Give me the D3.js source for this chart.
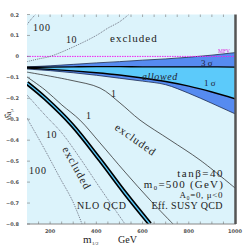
<!DOCTYPE html>
<html>
<head>
<meta charset="utf-8">
<script src="https://cdn.jsdelivr.net/npm/d3@7"></script>
<style>
  body { margin: 0; background: #fff; }
  svg { display: block; }
</style>
</head>
<body>
<svg id="chart" width="251" height="251"></svg>
<script>
// m_1/2 grid for the allowed band
const bandM = [100, 200, 300, 400, 500, 600, 700, 800, 900, 1000]
const band3Top = [-0.050, -0.045, -0.038, -0.031, -0.025, -0.018, -0.012, -0.004, 0.006, 0.018]
const band1Top = [-0.052, -0.051, -0.050, -0.049, -0.049, -0.050, -0.050, -0.050, -0.050, -0.051]
const band1Bot = [-0.056, -0.062, -0.069, -0.078, -0.089, -0.103, -0.120, -0.142, -0.170, -0.202]
const band3Bot = [-0.060, -0.068, -0.078, -0.090, -0.104, -0.118, -0.135, -0.176, -0.224, -0.274]

// contour lines [m, value]
const c100Up = [[100, 0.152], [120, 0.18], [137, 0.2]]
const c10Up = [[100, -0.025], [150, -0.012], [200, 0.0], [300, 0.045], [400, 0.10], [450, 0.135], [500, 0.165], [540, 0.2]]
const c1Up = [[100, -0.075], [286, -0.113], [416, -0.151], [502, -0.222], [589, -0.304], [719, -0.399], [849, -0.495], [1000, -0.628]]
const c1Low = [[100, -0.098], [178, -0.160], [251, -0.232], [329, -0.304], [416, -0.413], [524, -0.552], [632, -0.685], [732, -0.8]]
const thick = [[100, -0.127], [178, -0.199], [295, -0.327], [416, -0.494], [524, -0.652], [632, -0.8]]
const c10Low = [[100, -0.184], [178, -0.280], [251, -0.366], [329, -0.485], [416, -0.628], [524, -0.8]]
const c100Low = [[100, -0.295], [178, -0.447], [243, -0.581], [295, -0.685], [338, -0.8]]

const xTicks = [200, 400, 600, 800, 1000]
const yTicks = [0.2, 0.1, 0, -0.1, -0.2, -0.3, -0.4, -0.5, -0.6, -0.7, -0.8]

const svg = d3.select('#chart')
const pL = 27, pR = 235, pT = 14.5, pB = 224

const x = d3.scaleLinear().domain([100, 1000]).range([pL, pR])
const y = d3.scaleLinear().domain([-0.8, 0.2]).range([pB, pT])

svg.append('rect')
  .attr('x', pL).attr('y', pT)
  .attr('width', pR - pL).attr('height', pB - pT)
  .attr('fill', '#dcf3fb')

svg.append('defs').append('clipPath').attr('id', 'clip')
  .append('rect').attr('x', pL).attr('y', pT)
  .attr('width', pR - pL).attr('height', pB - pT)

const g = svg.append('g').attr('clip-path', 'url(#clip)')

const area = (hi, lo) => d3.area()
  .curve(d3.curveMonotoneX)
  .x((d, i) => x(bandM[i]))
  .y0((d, i) => y(lo[i]))
  .y1((d, i) => y(hi[i]))

g.append('path').datum(bandM).attr('d', area(band3Top, band3Bot)).attr('fill', '#568bf0')
g.append('path').datum(bandM).attr('d', area(band1Top, band1Bot)).attr('fill', '#5ccafa')

const bandLine = (vals) => d3.line().curve(d3.curveMonotoneX).x((d, i) => x(bandM[i])).y((d, i) => y(vals[i]))
;[band3Top, band3Bot].forEach((v) => {
  g.append('path').datum(bandM).attr('d', bandLine(v))
    .attr('fill', 'none').attr('stroke', '#1c2a50').attr('stroke-width', 0.8)
})
;[band1Top, band1Bot].forEach((v) => {
  g.append('path').datum(bandM).attr('d', bandLine(v))
    .attr('fill', 'none').attr('stroke', '#000').attr('stroke-width', 1.4)
})

const line = d3.line().curve(d3.curveCatmullRom.alpha(0.5)).x((d) => x(d[0])).y((d) => y(d[1]))

// MFV line
g.append('line')
  .attr('x1', x(100)).attr('x2', x(1000)).attr('y1', y(0)).attr('y2', y(0))
  .attr('stroke', '#f020f0').attr('stroke-width', 1).attr('stroke-dasharray', '1.5,1')

;[c100Up, c10Up, c10Low, c100Low].forEach((c) => {
  g.append('path').datum(c).attr('d', line)
    .attr('fill', 'none').attr('stroke', '#556').attr('stroke-width', 0.8).attr('stroke-dasharray', '1,1')
})
;[c1Up, c1Low].forEach((c) => {
  g.append('path').datum(c).attr('d', line)
    .attr('fill', 'none').attr('stroke', '#333').attr('stroke-width', 0.8)
})

g.append('path').datum(thick).attr('d', line)
  .attr('fill', 'none').attr('stroke', '#000').attr('stroke-width', 4.5)
g.append('path').datum(thick).attr('d', line)
  .attr('fill', 'none').attr('stroke', '#5ccafa').attr('stroke-width', 1.3)

// frame
svg.append('line').attr('x1', pL).attr('x2', pR + 1).attr('y1', pB).attr('y2', pB)
  .attr('stroke', '#888').attr('stroke-width', 1)
svg.append('line').attr('x1', pR + 0.5).attr('x2', pR + 0.5).attr('y1', pT).attr('y2', pB)
  .attr('stroke', '#555').attr('stroke-width', 2.5)

// ticks
const minorX = d3.range(150, 1000, 50)
svg.selectAll('.tt').data(minorX).join('line')
  .attr('x1', (d) => x(d)).attr('x2', (d) => x(d))
  .attr('y1', pT).attr('y2', pT + 2.5)
  .attr('stroke', '#777').attr('stroke-width', 0.6)
svg.selectAll('.bt').data(minorX).join('line')
  .attr('x1', (d) => x(d)).attr('x2', (d) => x(d))
  .attr('y1', pB).attr('y2', pB - 2.5)
  .attr('stroke', '#777').attr('stroke-width', 0.6)
svg.selectAll('.lt').data(yTicks).join('line')
  .attr('x1', pL).attr('x2', pL + 3)
  .attr('y1', (d) => y(d)).attr('y2', (d) => y(d))
  .attr('stroke', '#777').attr('stroke-width', 0.6)

const fmt = (d) => (d === 0 ? '0' : d3.format('.1f')(d))
svg.selectAll('.yl').data(yTicks).join('text')
  .attr('x', 19).attr('y', (d) => y(d) + 2)
  .attr('text-anchor', 'end')
  .attr('font-family', 'DejaVu Sans, sans-serif').attr('font-size', 5).attr('font-weight', 'bold')
  .attr('fill', '#555')
  .text(fmt)
svg.selectAll('.xl').data(xTicks).join('text')
  .attr('x', (d) => x(d)).attr('y', 233)
  .attr('text-anchor', 'middle')
  .attr('font-family', 'DejaVu Sans, sans-serif').attr('font-size', 5).attr('font-weight', 'bold')
  .attr('fill', '#555')
  .text((d) => d)

const serif = 'Liberation Serif, Times New Roman, serif'
const label = (tx, px, py, size, opts = {}) => {
  const t = svg.append('text').attr('x', px).attr('y', py)
    .attr('font-family', serif).attr('font-size', size)
    .attr('fill', opts.fill || '#222')
  if (opts.anchor) t.attr('text-anchor', opts.anchor)
  if (opts.rotate) t.attr('transform', `rotate(${opts.rotate},${px},${py})`)
  if (opts.italic) t.attr('font-style', 'italic')
  if (opts.ls) t.attr('letter-spacing', opts.ls)
  t.text(tx)
  return t
}

label('100', 33, 31, 10, { ls: 1 })
label('10', 66, 43, 10, { ls: 0.5 })
label('excluded', 110, 42, 11, { ls: 1 })
label('MFV', 218, 53, 5.5, { fill: '#e020e0' })
label('3 σ', 201, 66, 9, { fill: '#223' })
label('allowed', 142, 80, 10, { italic: true, fill: '#223', ls: 0.6 })
label('1 σ', 204, 86, 9, { fill: '#223' })
label('1', 111, 97, 10)
label('1', 86, 119, 10)
label('excluded', 114, 129, 11, { rotate: 35, ls: 1 })
label('10', 46, 138, 10, { ls: 0.5 })
label('100', 29, 174, 10, { ls: 1 })
label('excluded', 62, 149, 11, { rotate: 61, ls: 1 })
label('tanβ=40', 224, 177, 11, { anchor: 'end', ls: 1.5 })
label('m₀=500 (GeV)', 224, 188, 11, { anchor: 'end', ls: 1.2 })
label('A₀=0,  μ<0', 223, 198, 9, { anchor: 'end', ls: 0.6 })
label('Eff. SUSY QCD', 223, 209, 10, { anchor: 'end', ls: 0.4 })
label('NLO QCD', 77, 209, 10, { ls: 0.8 })
label('m', 83, 243, 11)
label('1/2', 92, 245, 5)
label('GeV', 118, 243, 10)

svg.append('text')
  .attr('transform', 'translate(11,119) rotate(-90)')
  .attr('font-family', serif).attr('font-size', 8).attr('fill', '#333')
  .text('δ̂a')
  .append('tspan').attr('font-size', 5).attr('dy', 2).text('μ')
</script>
</body>
</html>
